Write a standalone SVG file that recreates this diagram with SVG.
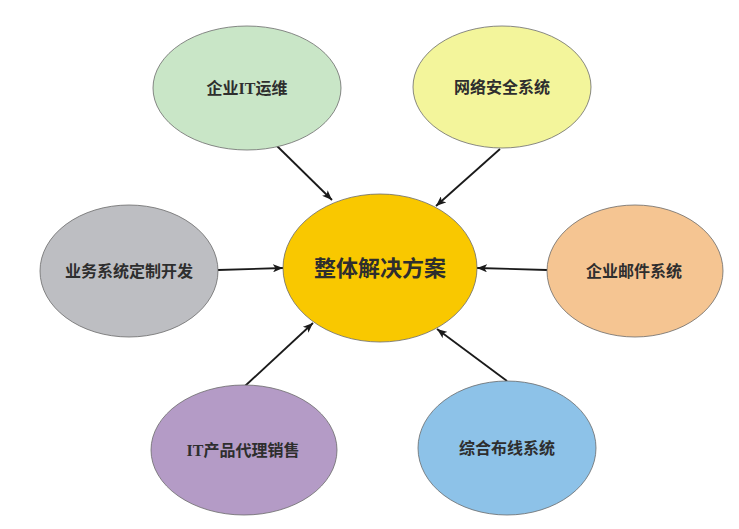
<svg xmlns="http://www.w3.org/2000/svg" width="739" height="529" viewBox="0 0 739 529">
<style>
.n{stroke:#6b6b6b;stroke-width:0.8}
.t{font-family:"Liberation Serif","Noto Sans CJK SC",serif;font-size:16px;font-weight:bold;fill:#2e2e2e;text-anchor:middle;dominant-baseline:central}
.c{font-size:22px}
.e{stroke:#1a1a1a;stroke-width:1.8;fill:none;marker-end:url(#ah)}
</style>
<defs>
<marker id="ah" viewBox="0 0 10 8" refX="10" refY="4" markerWidth="10" markerHeight="8" markerUnits="userSpaceOnUse" orient="auto">
<path d="M0,0 L10,4 L0,8 L2.5,4 Z" fill="#1a1a1a"/>
</marker>
</defs>
<rect width="739" height="529" fill="#ffffff"/>
<g id="edges">
<line class="e" x1="277" y1="146" x2="332" y2="200"/>
<line class="e" x1="500" y1="149" x2="436" y2="206"/>
<line class="e" x1="218" y1="270" x2="283" y2="268"/>
<line class="e" x1="547" y1="270" x2="477" y2="268"/>
<line class="e" x1="245" y1="386" x2="313" y2="323"/>
<line class="e" x1="507" y1="381" x2="437" y2="329"/>
</g>
<g id="center">
<ellipse class="n" cx="380" cy="268" rx="97" ry="74" fill="#f9c800"/>
<text class="t c" x="380" y="268">整体解决方案</text>
</g>
<g id="it-ops">
<ellipse class="n" cx="247" cy="88" rx="94" ry="62" fill="#c9e6c7"/>
<text class="t" x="247" y="88">企业IT运维</text>
</g>
<g id="net-security">
<ellipse class="n" cx="502" cy="87" rx="89" ry="61" fill="#f3f59b"/>
<text class="t" x="502" y="87">网络安全系统</text>
</g>
<g id="custom-dev">
<ellipse class="n" cx="129" cy="271" rx="89" ry="66" fill="#bdbec2"/>
<text class="t" x="129" y="271">业务系统定制开发</text>
</g>
<g id="mail">
<ellipse class="n" cx="635" cy="271" rx="88" ry="66" fill="#f5c592"/>
<text class="t" x="634" y="271">企业邮件系统</text>
</g>
<g id="it-sales">
<ellipse class="n" cx="244" cy="450" rx="93" ry="65" fill="#b49bc6"/>
<text class="t" x="243" y="450">IT产品代理销售</text>
</g>
<g id="cabling">
<ellipse class="n" cx="507" cy="448" rx="89" ry="67" fill="#8dc2e8"/>
<text class="t" x="507" y="448">综合布线系统</text>
</g>
</svg>
